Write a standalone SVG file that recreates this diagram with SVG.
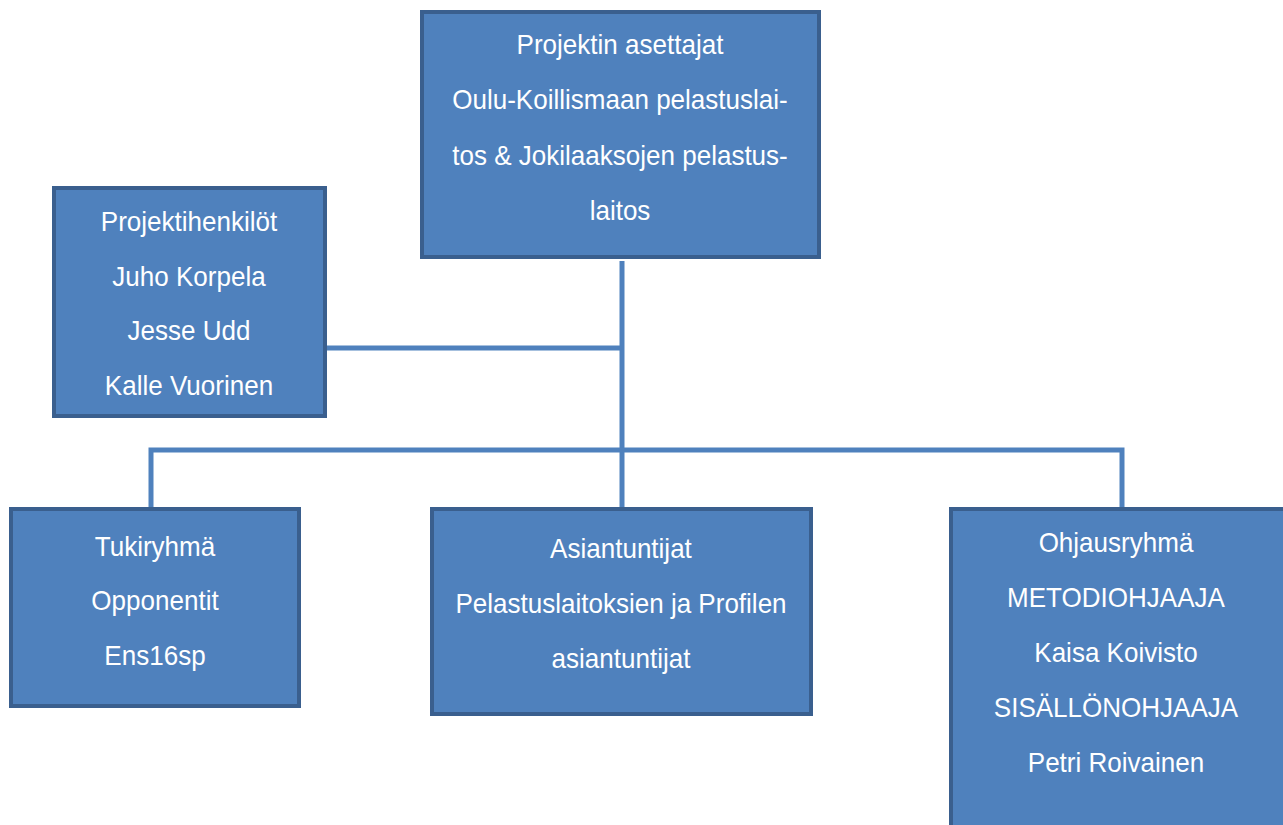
<svg xmlns="http://www.w3.org/2000/svg" width="1283" height="825" viewBox="0 0 1283 825">
<style>
.box{fill:#4f81bd;stroke:#3a5f8e;stroke-width:4}
.t{font-family:"Liberation Sans",Arial,sans-serif;font-size:28px;fill:#ffffff;text-anchor:middle}
.c{fill:none;stroke:#4f81bd;stroke-width:5}
</style>
<rect width="1283" height="825" fill="#ffffff"/>
<g id="connectors">
<line class="c" x1="622" y1="261" x2="622" y2="508"/>
<line class="c" x1="325" y1="348" x2="622" y2="348"/>
<polyline class="c" points="151,508 151,450 1122,450 1122,508"/>
</g>
<g id="asettajat">
<rect class="box" x="422" y="12" width="397" height="245"/>
<g transform="scale(0.93,1)">
<text class="t" x="666.67" y="54">Projektin asettajat</text>
<text class="t" x="666.67" y="109">Oulu-Koillismaan pelastuslai-</text>
<text class="t" x="666.67" y="165">tos &amp; Jokilaaksojen pelastus-</text>
<text class="t" x="666.67" y="220">laitos</text>
</g>
</g>
<g id="projektihenkilot">
<rect class="box" x="54" y="188" width="271" height="228"/>
<g transform="scale(0.93,1)">
<text class="t" x="203.23" y="231">Projektihenkilöt</text>
<text class="t" x="203.23" y="286">Juho Korpela</text>
<text class="t" x="203.23" y="340">Jesse Udd</text>
<text class="t" x="203.23" y="395">Kalle Vuorinen</text>
</g>
</g>
<g id="tukiryhma">
<rect class="box" x="11" y="509" width="288" height="197"/>
<g transform="scale(0.93,1)">
<text class="t" x="166.67" y="556">Tukiryhmä</text>
<text class="t" x="166.67" y="610">Opponentit</text>
<text class="t" x="166.67" y="665">Ens16sp</text>
</g>
</g>
<g id="asiantuntijat">
<rect class="box" x="432" y="509" width="379" height="205"/>
<g transform="scale(0.93,1)">
<text class="t" x="667.74" y="558">Asiantuntijat</text>
<text class="t" x="667.74" y="613">Pelastuslaitoksien ja Profilen</text>
<text class="t" x="667.74" y="668">asiantuntijat</text>
</g>
</g>
<g id="ohjausryhma">
<rect class="box" x="951" y="509" width="334" height="330"/>
<g transform="scale(0.93,1)">
<text class="t" x="1200" y="552">Ohjausryhmä</text>
<text class="t" x="1200" y="607">METODIOHJAAJA</text>
<text class="t" x="1200" y="662">Kaisa Koivisto</text>
<text class="t" x="1200" y="717">SISÄLLÖNOHJAAJA</text>
<text class="t" x="1200" y="772">Petri Roivainen</text>
</g>
</g>
</svg>
